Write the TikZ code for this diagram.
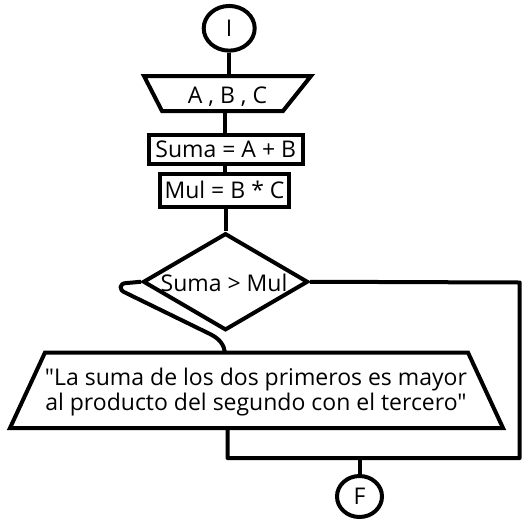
\documentclass[tikz,border=0pt]{standalone}
\usepackage{fontspec}
\setmainfont[Ligatures=TeXOff]{Open Sans}
\usetikzlibrary{shapes.geometric}
\begin{document}
\begin{tikzpicture}[x=1pt,y=-1pt,
  line width=4pt,
  every node/.style={font=\fontsize{23}{25}\selectfont, text height=16.4pt, text depth=0pt, inner sep=0pt},
  term/.style={draw, ellipse},
  procbox/.style={draw, rectangle},
  decision/.style={draw, diamond},
  conn/.style={draw, line join=round}]
\useasboundingbox (0,0) rectangle (531,523);
% start
\node[term, minimum width=51pt, minimum height=44.7pt] (I) at (229.2,28.3) {I};
% input trapezium
\coordinate (abctl) at (144,76);
\coordinate (abctr) at (311,76);
\coordinate (abcbr) at (283,111);
\coordinate (abcbl) at (162,111);
\coordinate (abctop) at (229.2,76);
\coordinate (abcbot) at (225,111);
\draw[line join=miter] (abctl) -- (abctr) -- (abcbr) -- (abcbl) -- cycle;
\node (abc) at (227.5,95.3) {A , B , C};
% process boxes
\node[procbox, minimum width=154.5pt, minimum height=29.5pt] (suma) at (225.75,149.25) {Suma = A + B};
\node[procbox, minimum width=129pt, minimum height=32.5pt] (mul) at (224.5,190.25) {Mul = B * C};
% decision
\node[decision, minimum width=165pt, minimum height=97pt] (d) at (225.5,281.75) {};
\node (dtext) at (224,283.3) {Suma > Mul};
% output trapezium
\coordinate (outtl) at (45,352.5);
\coordinate (outtr) at (468,352.5);
\coordinate (outbr) at (503,428);
\coordinate (outbl) at (10,428);
\coordinate (outtop) at (225,352.5);
\coordinate (outbot) at (227.5,428);
\draw[line join=miter] (outtl) -- (outtr) -- (outbr) -- (outbl) -- cycle;
\node[align=center, anchor=base] (msg) at (256,410) {"La suma de los dos primeros es mayor\\al producto del segundo con el tercero"};
% end
\node[term, minimum width=45pt, minimum height=41pt] (F) at (359.5,496.5) {F};
% connectors
\coordinate (rtop) at (519.7,282.5);
\coordinate (rbot) at (519.7,458);
\coordinate (lbot) at (227.5,458);
\draw[conn] (I.south) -- (abctop);
\draw[conn] (abcbot) -- (abcbot |- suma.north);
\draw[conn] (suma.south -| abcbot) -- (mul.north -| abcbot);
\draw[conn] (d.north |- mul.south) -- (d.north);
\draw[conn] (d.east) -- (rtop) -- (rbot) -- (lbot) -- (outbot);
\draw[conn] (F.north) -- (F.north |- rbot);
\draw[conn] (d.west) -- (127,283) .. controls (119,283) and (118,290) .. (126,293) -- (210,334) .. controls (220,339) and (224,345) .. (outtop);
\end{tikzpicture}
\end{document}
